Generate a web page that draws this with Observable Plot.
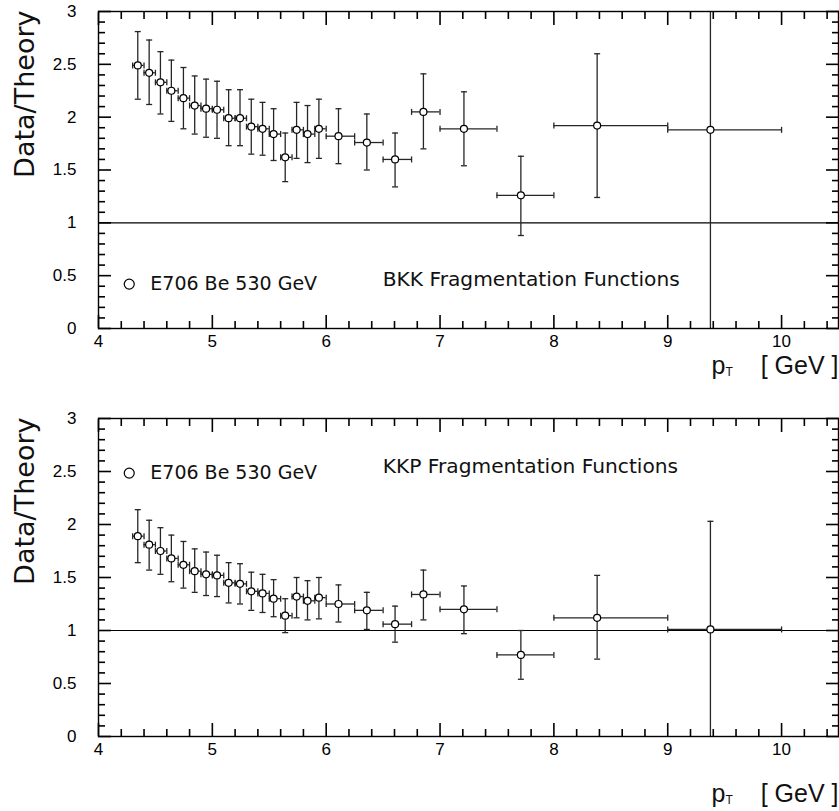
<!DOCTYPE html>
<html>
<head>
<meta charset="utf-8">
<script src="https://cdn.jsdelivr.net/npm/d3@7"></script>
<script src="https://cdn.jsdelivr.net/npm/@observablehq/plot@0.6"></script>
<style>
  html, body { margin: 0; padding: 0; background: #fff; }
  #chart svg { display: block; }
</style>
</head>
<body>
<div id="chart"></div>
<script>
// ---- data ----
const pT    = [4.345, 4.445, 4.544, 4.640, 4.746, 4.845, 4.945, 5.041, 5.143, 5.243, 5.342, 5.441, 5.538, 5.640, 5.740, 5.836, 5.936, 6.108, 6.357, 6.605, 6.854, 7.21, 7.71, 8.38, 9.375];
const binLo = [4.3, 4.4, 4.5, 4.6, 4.7, 4.8, 4.9, 5.0, 5.1, 5.2, 5.3, 5.4, 5.5, 5.6, 5.7, 5.8, 5.9, 6.0, 6.25, 6.5, 6.75, 7.0, 7.5, 8.0, 9.0];
const binHi = [4.4, 4.5, 4.6, 4.7, 4.8, 4.9, 5.0, 5.1, 5.2, 5.3, 5.4, 5.5, 5.6, 5.7, 5.8, 5.9, 6.0, 6.25, 6.5, 6.75, 7.0, 7.5, 8.0, 9.0, 10.0];

const bkkRatio = [2.49, 2.42, 2.33, 2.25, 2.18, 2.11, 2.08, 2.07, 1.99, 1.99, 1.91, 1.89, 1.84, 1.62, 1.88, 1.84, 1.89, 1.82, 1.76, 1.60, 2.05, 1.89, 1.26, 1.92, 1.88];
const bkkHigh  = [2.81, 2.73, 2.62, 2.54, 2.47, 2.39, 2.36, 2.34, 2.26, 2.26, 2.17, 2.14, 2.08, 1.85, 2.14, 2.11, 2.17, 2.08, 2.03, 1.85, 2.41, 2.24, 1.63, 2.60, 4.50];
const bkkLow   = [2.17, 2.12, 2.03, 1.96, 1.89, 1.84, 1.81, 1.80, 1.73, 1.73, 1.65, 1.64, 1.59, 1.39, 1.61, 1.57, 1.61, 1.56, 1.50, 1.34, 1.70, 1.54, 0.88, 1.24, -0.50];

const kkpRatio = [1.89, 1.81, 1.75, 1.68, 1.62, 1.56, 1.53, 1.52, 1.45, 1.44, 1.37, 1.35, 1.30, 1.14, 1.32, 1.28, 1.31, 1.25, 1.19, 1.06, 1.34, 1.20, 0.77, 1.12, 1.01];
const kkpHigh  = [2.14, 2.04, 1.97, 1.90, 1.84, 1.77, 1.74, 1.71, 1.64, 1.63, 1.55, 1.53, 1.48, 1.30, 1.50, 1.47, 1.50, 1.43, 1.36, 1.23, 1.57, 1.42, 1.00, 1.52, 2.03];
const kkpLow   = [1.64, 1.57, 1.53, 1.46, 1.40, 1.36, 1.33, 1.32, 1.26, 1.25, 1.19, 1.17, 1.13, 0.98, 1.12, 1.10, 1.11, 1.08, 1.01, 0.89, 1.10, 0.97, 0.54, 0.73, -0.50];

const xTickLabels = [4, 5, 6, 7, 8, 9, 10];
const yTickLabels = [0, 0.5, 1, 1.5, 2, 2.5, 3];
const xMajorTicks = [4, 5, 6, 7, 8, 9, 10];
const xMinorTicks = [4.2, 4.4, 4.6, 4.8, 5.2, 5.4, 5.6, 5.8, 6.2, 6.4, 6.6, 6.8, 7.2, 7.4, 7.6, 7.8, 8.2, 8.4, 8.6, 8.8, 9.2, 9.4, 9.6, 9.8, 10.2, 10.4];
const yMajorTicks = [0, 0.5, 1, 1.5, 2, 2.5, 3];
const yMinorTicks = [0.1, 0.2, 0.3, 0.4, 0.6, 0.7, 0.8, 0.9, 1.1, 1.2, 1.3, 1.4, 1.6, 1.7, 1.8, 1.9, 2.1, 2.2, 2.3, 2.4, 2.6, 2.7, 2.8, 2.9];
const legendLabel = "E706 Be 530 GeV";
const yTitle = "Data/Theory";

// ---- layout ----
const WIDTH = 839, ML = 98, MR = 1;
const labelFont = "'Liberation Sans Narrow', 'Liberation Sans', Arial, sans-serif";
const textFont = "'DejaVu Sans', Verdana, sans-serif";

// short line symbols for error-bar caps
const seg = (x0, y0, x1, y1) => ({draw(ctx) { ctx.moveTo(x0, y0); ctx.lineTo(x1, y1); }});
const hCap = seg(-3, 0, 3, 0);
const vCap = seg(0, -3, 0, 3);

// inward tick marks drawn by Plot's own axis marks (negative tickSize = inward)
function inwardTicks() {
  const t = {tickFormat: () => "", label: null, stroke: "#000", strokeWidth: 1.6};
  return [
    Plot.axisX({anchor: "bottom", ticks: xMajorTicks, tickSize: -13, ...t}),
    Plot.axisX({anchor: "bottom", ticks: xMinorTicks, tickSize: -7, ...t}),
    Plot.axisX({anchor: "top", ticks: xMajorTicks, tickSize: -13, ...t}),
    Plot.axisX({anchor: "top", ticks: xMinorTicks, tickSize: -7, ...t}),
    Plot.axisY({anchor: "left", ticks: yMajorTicks, tickSize: -13, ...t}),
    Plot.axisY({anchor: "left", ticks: yMinorTicks, tickSize: -7, ...t}),
    Plot.axisY({anchor: "right", ticks: yMajorTicks, tickSize: -13, ...t}),
    Plot.axisY({anchor: "right", ticks: yMinorTicks, tickSize: -7, ...t})
  ];
}

function panel({ratio, high, low, title, legendY, titleY, height, mt, mb, ptDy}) {
  const rows = pT.map((x, i) => ({x, xlo: binLo[i], xhi: binHi[i], y: ratio[i], lo: low[i], hi: high[i]}));
  const ink = "#262626";
  return Plot.plot({
    width: WIDTH, height,
    marginLeft: ML, marginRight: MR, marginTop: mt, marginBottom: mb,
    x: {domain: [4, 10.5]},
    y: {domain: [0, 3]},
    style: {fontFamily: labelFont, background: "#fff", color: "#000"},
    marks: [
      // tick labels
      Plot.axisX({ticks: xTickLabels, tickSize: 0, tickPadding: 6, fontSize: 17, fontFamily: labelFont, tickFormat: d => String(d), label: null}),
      Plot.axisY({ticks: yTickLabels, tickSize: 0, tickPadding: 22, fontSize: 17, fontFamily: labelFont, tickFormat: d => String(d), label: null}),
      // inward ticks on all four sides
      ...inwardTicks(),
      // reference line at 1
      Plot.ruleY([1], {stroke: "#000", strokeWidth: 1.2}),
      // error bars
      Plot.ruleX(rows, {x: "x", y1: "lo", y2: "hi", stroke: ink, strokeWidth: 1.3, clip: true}),
      Plot.ruleY(rows, {y: "y", x1: "xlo", x2: "xhi", stroke: ink, strokeWidth: 1.3, clip: true}),
      Plot.dot(rows, {x: "x", y: "hi", symbol: hCap, fill: "none", stroke: ink, strokeWidth: 1.3, clip: true}),
      Plot.dot(rows, {x: "x", y: "lo", symbol: hCap, fill: "none", stroke: ink, strokeWidth: 1.3, clip: true}),
      Plot.dot(rows, {x: "xlo", y: "y", symbol: vCap, fill: "none", stroke: ink, strokeWidth: 1.3, clip: true}),
      Plot.dot(rows, {x: "xhi", y: "y", symbol: vCap, fill: "none", stroke: ink, strokeWidth: 1.3, clip: true}),
      // data markers
      Plot.dot(rows, {x: "x", y: "y", r: 3.5, fill: "#fff", stroke: "#000", strokeWidth: 1.2}),
      // legend + panel title
      Plot.dot([0], {x: 4.27, y: legendY, r: 5, fill: "#fff", stroke: "#000", strokeWidth: 1.2}),
      Plot.text([legendLabel], {x: 4.455, y: legendY, text: d => d, textAnchor: "start", fontSize: 19, fontFamily: textFont, fill: "#111"}),
      Plot.text([title], {x: 6.497, y: titleY, text: d => d, textAnchor: "start", fontSize: 20.2, fontFamily: textFont, fill: "#111"}),
      // axis titles
      Plot.text([yTitle], {frameAnchor: "top-left", dx: 25 - ML, dy: -1, text: d => d, rotate: -90, textAnchor: "end", lineAnchor: "middle", fontSize: 27, fontFamily: textFont, fill: "#111"}),
      Plot.text(["p"], {frameAnchor: "bottom-right", dx: -127, dy: ptDy, text: d => d, textAnchor: "start", lineAnchor: "bottom", fontSize: 25, fontFamily: labelFont, fill: "#111"}),
      Plot.text(["T"], {frameAnchor: "bottom-right", dx: -113, dy: ptDy + 2, text: d => d, textAnchor: "start", lineAnchor: "bottom", fontSize: 12, fontFamily: labelFont, fill: "#111"}),
      Plot.text(["[ GeV ]"], {frameAnchor: "bottom-right", dx: 0, dy: ptDy, text: d => d, textAnchor: "end", lineAnchor: "bottom", fontSize: 25, fontFamily: labelFont, fill: "#111"}),
      // frame
      Plot.frame({stroke: "#000", strokeWidth: 1.4})
    ]
  });
}

const chart = document.getElementById("chart");
chart.append(panel({ratio: bkkRatio, high: bkkHigh, low: bkkLow, title: "BKK Fragmentation Functions",
                    legendY: 0.42, titleY: 0.465, height: 405, mt: 11, mb: 77, ptDy: 45}));
chart.append(panel({ratio: kkpRatio, high: kkpHigh, low: kkpLow, title: "KKP Fragmentation Functions",
                    legendY: 2.485, titleY: 2.55, height: 406, mt: 13, mb: 75, ptDy: 65}));
</script>
</body>
</html>
